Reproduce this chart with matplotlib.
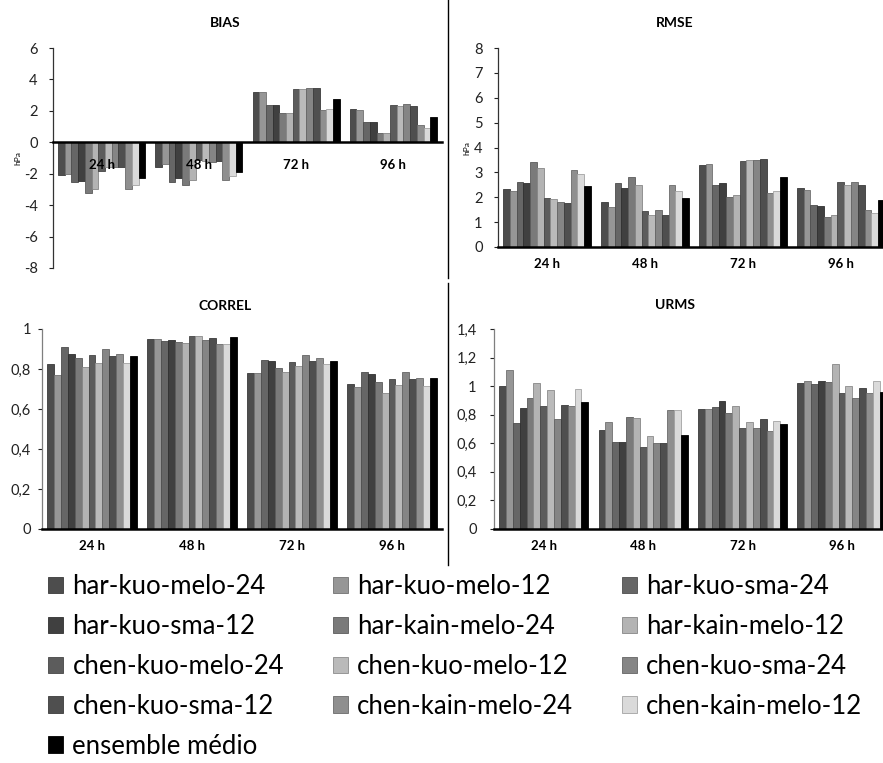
import numpy as np
import matplotlib
matplotlib.use("Agg")
import matplotlib.pyplot as plt
from matplotlib.lines import Line2D
from matplotlib.patches import Patch
from matplotlib.ticker import FuncFormatter

plt.rcParams['font.family'] = ['Lato', 'DejaVu Sans']

W, H = 883, 763

categorias = ["24 h", "48 h", "72 h", "96 h"]
modelos = ["har-kuo-melo-24", "har-kuo-melo-12", "har-kuo-sma-24", "har-kuo-sma-12",
           "har-kain-melo-24", "har-kain-melo-12", "chen-kuo-melo-24", "chen-kuo-melo-12",
           "chen-kuo-sma-24", "chen-kuo-sma-12", "chen-kain-melo-24", "chen-kain-melo-12",
           "ensemble médio"]
cores = ["#4d4d4d", "#969696", "#666666", "#404040", "#7a7a7a", "#b3b3b3", "#5c5c5c",
         "#bababa", "#858585", "#4f4f4f", "#8f8f8f", "#dadada", "#000000"]

# linhas = prazos (24, 48, 72, 96 h), colunas = modelos (mesma ordem de 'modelos')
bias = [
    [-2.1, -2.0, -2.5, -2.45, -3.25, -3.0, -1.8, -1.6, -1.55, -1.55, -3.0, -2.75, -2.3],
    [-1.6, -1.4, -2.5, -2.3, -2.7, -2.38, -1.15, -1.2, -1.28, -1.22, -2.4, -2.13, -1.9],
    [3.23, 3.23, 2.38, 2.38, 1.85, 1.85, 3.4, 3.4, 3.47, 3.47, 2.06, 2.13, 2.77],
    [2.13, 2.06, 1.32, 1.32, 0.6, 0.6, 2.38, 2.32, 2.43, 2.32, 1.1, 0.94, 1.62],
]
rmse = [
    [2.34, 2.24, 2.6, 2.58, 3.4, 3.18, 1.96, 1.92, 1.82, 1.78, 3.08, 2.92, 2.44],
    [1.82, 1.62, 2.56, 2.36, 2.8, 2.5, 1.44, 1.28, 1.48, 1.28, 2.48, 2.24, 1.96],
    [3.3, 3.32, 2.5, 2.56, 2.0, 2.08, 3.44, 3.48, 3.48, 3.52, 2.16, 2.24, 2.8],
    [2.36, 2.28, 1.68, 1.64, 1.2, 1.28, 2.6, 2.48, 2.6, 2.48, 1.48, 1.38, 1.87],
]
correl = [
    [0.825, 0.77, 0.91, 0.875, 0.855, 0.81, 0.87, 0.828, 0.9, 0.867, 0.875, 0.828, 0.865],
    [0.95, 0.95, 0.94, 0.945, 0.935, 0.93, 0.965, 0.965, 0.945, 0.955, 0.925, 0.925, 0.96],
    [0.78, 0.78, 0.845, 0.84, 0.805, 0.785, 0.835, 0.815, 0.87, 0.84, 0.855, 0.825, 0.84],
    [0.725, 0.71, 0.785, 0.775, 0.735, 0.68, 0.75, 0.72, 0.785, 0.75, 0.755, 0.715, 0.755],
]
urms = [
    [1.0, 1.113, 0.742, 0.85, 0.92, 1.02, 0.86, 0.97, 0.77, 0.868, 0.86, 0.98, 0.89],
    [0.69, 0.75, 0.61, 0.61, 0.785, 0.775, 0.575, 0.65, 0.6, 0.6, 0.83, 0.83, 0.66],
    [0.84, 0.84, 0.852, 0.896, 0.812, 0.861, 0.707, 0.749, 0.707, 0.77, 0.686, 0.756, 0.735],
    [1.022, 1.034, 1.015, 1.034, 1.027, 1.155, 0.95, 1.0, 0.917, 0.985, 0.952, 1.034, 0.96],
]


def caixa(l, t, r, b):
    return [l / W, 1 - b / H, (r - l) / W, (b - t) / H]


def escurecer(c, f=0.75):
    rgb = np.array(matplotlib.colors.to_rgb(c)) * f
    return tuple(rgb)


def virgula(v, pos):
    s = ("%.1f" % v).rstrip("0").rstrip(".")
    return s.replace(".", ",")


fig = plt.figure(figsize=(W / 100, H / 100), dpi=100)

paineis = [
    ("BIAS", bias, (53, 48, 442, 268), (-8, 6), np.arange(-8, 7, 2), 3.5, 8),
    ("RMSE", rmse, (498, 48, 883, 247), (0, 8), np.arange(0, 9, 1), 3.43, 8),
    ("CORREL", correl, (42, 329, 442, 529), (0, 1), np.arange(0, 1.01, 0.2), 3.5, 5),
    ("URMS", urms, (494, 329, 883, 529), (0, 1.4), np.arange(0, 1.41, 0.2), 3.413, 9.5),
]
titulos_pos = {"BIAS": (225, 23), "RMSE": (675, 23), "CORREL": (225, 306), "URMS": (675, 305)}

w = 0.069
x = np.arange(len(categorias))
for nome, dados, pos, ylim, yt, xmax, pad in paineis:
    ax = fig.add_axes(caixa(*pos))
    if nome == "BIAS":
        ax.spines["bottom"].set_position(("data", 0))
    d = np.array(dados)
    for j in range(len(modelos)):
        ax.bar(x + (j - 6) * w, d[:, j], width=w, color=cores[j],
               edgecolor=escurecer(cores[j]), linewidth=0.6, zorder=1)
    ax.set_xlim(-0.5, xmax)
    ax.set_ylim(*ylim)
    ax.set_yticks(yt)
    ax.yaxis.set_major_formatter(FuncFormatter(virgula))
    ax.set_xticks(x)
    ax.set_xticklabels(categorias, fontsize=9.5, fontweight="bold")
    ax.tick_params(axis="x", length=0, pad=8 if nome != "BIAS" else 12)
    ax.tick_params(axis="y", length=3, width=0.8, pad=pad, labelsize=10.5, colors="#222222")
    ax.spines["top"].set_visible(False)
    ax.spines["right"].set_visible(False)
    ax.spines["left"].set_color("#333333" if nome in ("BIAS", "RMSE") else "#7f7f7f")
    ax.spines["left"].set_linewidth(0.9)
    ax.spines["bottom"].set_linewidth(1.8)
    ax.spines["bottom"].set_color("black")
    ax.patch.set_alpha(0)
    tx, ty = titulos_pos[nome]
    fig.text(tx / W, 1 - ty / H, nome, ha="center", va="center",
             fontsize=10, fontweight="bold")

fig.text(18 / W, 1 - 158 / H, "hPa", rotation=90, ha="center", va="center", fontsize=6)
fig.text(467 / W, 1 - 148 / H, "hPa", rotation=90, ha="center", va="center", fontsize=6)

# linhas separadoras entre os gráficos
fig.add_artist(Line2D([448 / W, 448 / W], [1 - 0 / H, 1 - 278 / H], color="black", lw=1))
fig.add_artist(Line2D([448 / W, 448 / W], [1 - 283 / H, 1 - 565 / H], color="black", lw=1))

handles = [Patch(facecolor=cores[i], edgecolor=escurecer(cores[i]), linewidth=0.6)
           for i in range(len(modelos))]
ordem = [0, 3, 6, 9, 12, 1, 4, 7, 10, 2, 5, 8, 11]
fig.legend([handles[i] for i in ordem], [modelos[i] for i in ordem],
           loc="upper left", bbox_to_anchor=(48 / W, 1 - 574 / H), ncol=3,
           frameon=False, fontsize=18.5, handlelength=0.6, handleheight=0.6,
           handletextpad=0.35, columnspacing=1.9, labelspacing=0.58,
           borderaxespad=0, borderpad=0)

fig.savefig("out.png", dpi=100)
